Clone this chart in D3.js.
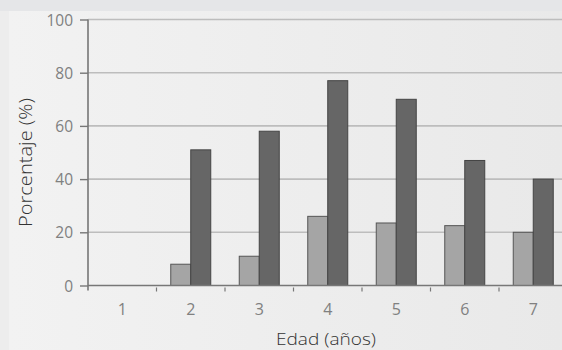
<!DOCTYPE html>
<html><head><meta charset="utf-8">
<script src="https://cdn.jsdelivr.net/npm/d3@7"></script>
<style>
html,body{margin:0;padding:0;background:#e5e6e8;}
svg{display:block;}
text{font-family:"Open Sans","Noto Sans",sans-serif;}
</style></head>
<body>
<svg id="c" width="562" height="350"></svg>
<script>
const categories = ["1","2","3","4","5","6","7"];
const seriesLight = [0, 8, 11, 26, 23.5, 22.5, 20];
const seriesDark  = [0, 51, 58, 77, 70, 47, 40];
const yTicks = [0, 20, 40, 60, 80, 100];

const svg = d3.select("#c");
const defs = svg.append("defs");
const g1 = defs.append("linearGradient").attr("id","bg").attr("x1","0").attr("x2","1").attr("y1","0").attr("y2","0");
g1.append("stop").attr("offset","0").attr("stop-color","#f2f2f2");
g1.append("stop").attr("offset","1").attr("stop-color","#e9e9e9");
svg.append("rect").attr("x",0).attr("y",0).attr("width",562).attr("height",350).attr("fill","#e5e6e8");
svg.append("rect").attr("x",0).attr("y",11).attr("width",9).attr("height",339).attr("fill","#ededed");
svg.append("rect").attr("x",9).attr("y",11).attr("width",553).attr("height",339).attr("fill","url(#bg)");

const x = d3.scaleBand().domain(categories).range([88, 567.5]);
const y = d3.scaleLinear().domain([0,100]).range([285.5, 19.5]);

// gridlines
svg.append("g").selectAll("line").data(yTicks.filter(d=>d>0)).join("line")
  .attr("x1",88).attr("x2",562).attr("y1",d=>y(d)).attr("y2",d=>y(d))
  .attr("stroke","#bdbdbd").attr("stroke-width",1.6);

// bars
const bw = 20;
const gb = svg.append("g");
gb.selectAll("rect.l").data(categories).join("rect").attr("class","l")
  .attr("x",d=>x(d)+x.bandwidth()/2-bw).attr("width",bw)
  .attr("y",(d,i)=>y(seriesLight[i])).attr("height",(d,i)=>y(0)-y(seriesLight[i]))
  .attr("fill","#a5a5a5").attr("stroke","#555").attr("stroke-width",1)
  .style("display",(d,i)=>seriesLight[i]>0?null:"none");
gb.selectAll("rect.d").data(categories).join("rect").attr("class","d")
  .attr("x",d=>x(d)+x.bandwidth()/2).attr("width",bw)
  .attr("y",(d,i)=>y(seriesDark[i])).attr("height",(d,i)=>y(0)-y(seriesDark[i]))
  .attr("fill","#666666").attr("stroke","#444").attr("stroke-width",1)
  .style("display",(d,i)=>seriesDark[i]>0?null:"none");

// y axis
const ya = svg.append("g").attr("transform","translate(88,0)")
  .call(d3.axisLeft(y).tickValues(yTicks).tickSize(8).tickPadding(7));
ya.select(".domain").attr("stroke","#777").attr("stroke-width",1.6).attr("d","M0,"+y(100)+"V"+(y(0)+5));
ya.selectAll(".tick line").attr("stroke","#777").attr("stroke-width",1.4);
ya.selectAll(".tick text").attr("fill","#808080").style("font-size","15.5px")
  .attr("font-family","'Open Sans',sans-serif").attr("dy","0.36em");

// x axis
const xa = svg.append("g").attr("transform","translate(0,"+y(0)+")")
  .call(d3.axisBottom(x).tickSize(0).tickPadding(0));
xa.select(".domain").attr("stroke","#777").attr("stroke-width",1.6).attr("d","M88,0H562");
xa.selectAll(".tick text").attr("fill","#808080").style("font-size","16px")
  .attr("font-family","'Open Sans',sans-serif").attr("dy",null).attr("y",29.5);
svg.append("g").selectAll("line").data(categories.slice(1)).join("line")
  .attr("x1",d=>x(d)).attr("x2",d=>x(d)).attr("y1",y(0)+2).attr("y2",y(0)+6)
  .attr("stroke","#777").attr("stroke-width",1.2);

// titles
svg.append("text").attr("x",326).attr("y",344.5).attr("text-anchor","middle")
  .attr("fill","#333").style("font-size","17px").style("font-weight","300")
  .attr("textLength",100).attr("lengthAdjust","spacingAndGlyphs").text("Edad (años)");
svg.append("text").attr("transform","translate(32,162.5) rotate(-90)").attr("text-anchor","middle")
  .attr("fill","#333").style("font-size","18px").style("font-weight","300")
  .attr("textLength",129).attr("lengthAdjust","spacingAndGlyphs").text("Porcentaje (%)");
</script>
</body></html>
